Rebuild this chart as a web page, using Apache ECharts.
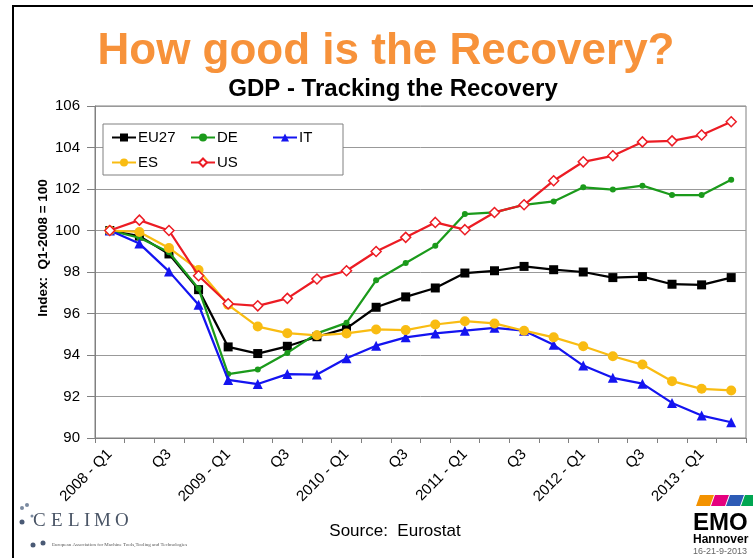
<!DOCTYPE html>
<html>
<head>
<meta charset="utf-8">
<script src="https://cdn.jsdelivr.net/npm/echarts@6/dist/echarts.min.js"></script>
<style>
html,body{margin:0;padding:0;background:#fff;}
#chart{width:753px;height:558px;}
</style>
</head>
<body>
<div id="chart"></div>
<script>
var categories = ["2008 - Q1","Q2","Q3","Q4","2009 - Q1","Q2","Q3","Q4","2010 - Q1","Q2","Q3","Q4","2011 - Q1","Q2","Q3","Q4","2012 - Q1","Q2","Q3","Q4","2013 - Q1","Q2"];
var eu27 = [100, 99.73, 98.87, 97.15, 94.39, 94.07, 94.42, 94.88, 95.28, 96.3, 96.8, 97.23, 97.95, 98.06, 98.27, 98.11, 98.0, 97.73, 97.78, 97.41, 97.38, 97.73];
var de   = [100, 99.65, 98.95, 97.2, 93.08, 93.3, 94.1, 95.04, 95.55, 97.6, 98.43, 99.26, 100.79, 100.87, 101.24, 101.4, 102.08, 101.97, 102.16, 101.71, 101.71, 102.45];
var it   = [100, 99.37, 98.03, 96.42, 92.8, 92.6, 93.08, 93.06, 93.84, 94.45, 94.85, 95.04, 95.17, 95.31, 95.17, 94.49, 93.49, 92.9, 92.62, 91.69, 91.08, 90.76];
var es   = [100, 99.93, 99.16, 98.1, 96.42, 95.37, 95.05, 94.95, 95.04, 95.23, 95.2, 95.47, 95.63, 95.52, 95.17, 94.85, 94.42, 93.94, 93.54, 92.74, 92.37, 92.29];
var us   = [100, 100.5, 100.0, 97.82, 96.47, 96.37, 96.73, 97.66, 98.06, 98.99, 99.67, 100.39, 100.04, 100.87, 101.24, 102.4, 103.31, 103.6, 104.27, 104.32, 104.6, 105.24];
var yTicks = {min: 90, max: 106, interval: 2};

var FONT = '"Liberation Sans", Arial, sans-serif';
var chart = echarts.init(document.getElementById('chart'), null, {renderer: 'canvas'});

function legendAt(name, left, top) {
  return {
    data: [name], left: left, top: top, padding: 0, itemGap: 0,
    itemWidth: 24, itemHeight: 10, z: 20,
    textStyle: {fontFamily: FONT, fontSize: 15, color: '#000', padding: [0, 0, 0, -3]}
  };
}

var celimo = [];
var letters = 'CELIMO';
var letterX = [33, 51, 68, 84, 94, 115];
for (var i = 0; i < letters.length; i++) {
  celimo.push({type: 'text', x: letterX[i], y: 521,
    style: {text: letters[i], font: '19px "Liberation Serif", serif', fill: '#4a5566', align: 'left', verticalAlign: 'middle'}});
}

var option = {
  backgroundColor: '#fff',
  animation: false,
  grid: {left: 95, top: 106, width: 651, height: 332, show: true, borderColor: '#808080', borderWidth: 1, backgroundColor: 'transparent'},
  legend: [
    legendAt('EU27', 111, 130), legendAt('DE', 190, 130), legendAt('IT', 272, 130),
    legendAt('ES', 111, 155), legendAt('US', 190, 155)
  ],
  xAxis: {
    type: 'category', data: categories, boundaryGap: true,
    axisLine: {lineStyle: {color: '#808080', width: 1}},
    axisTick: {show: true, interval: 0, length: 5, lineStyle: {color: '#808080'}},
    axisLabel: {interval: 1, rotate: 45, fontSize: 15, fontFamily: FONT, color: '#000', margin: 14}
  },
  yAxis: {
    type: 'value', min: yTicks.min, max: yTicks.max, interval: yTicks.interval,
    axisLine: {show: true, lineStyle: {color: '#808080', width: 1}},
    axisTick: {show: true, length: 8, lineStyle: {color: '#808080'}},
    axisLabel: {fontSize: 15, fontFamily: FONT, color: '#000', margin: 15},
    splitLine: {lineStyle: {color: '#999999', width: 1}}
  },
  series: [
    {name: 'EU27', type: 'line', data: eu27, symbol: 'rect', symbolSize: 9, z: 3,
      lineStyle: {color: '#000', width: 2.25}, itemStyle: {color: '#000'}},
    {name: 'DE', type: 'line', data: de, symbol: 'circle', symbolSize: 6, z: 4,
      lineStyle: {color: '#1b9a1b', width: 2.25}, itemStyle: {color: '#1b9a1b'}},
    {name: 'IT', type: 'line', data: it, symbol: 'triangle', symbolSize: 10, z: 5,
      lineStyle: {color: '#1414f0', width: 2.25}, itemStyle: {color: '#1414f0'}},
    {name: 'ES', type: 'line', data: es, symbol: 'circle', symbolSize: 10, z: 6,
      lineStyle: {color: '#f9bc12', width: 2.25}, itemStyle: {color: '#f9bc12'}},
    {name: 'US', type: 'line', data: us, symbol: 'diamond', symbolSize: 10, z: 7, showAllSymbol: true,
      lineStyle: {color: '#ec1c24', width: 2.25}, itemStyle: {color: '#fff', borderColor: '#ec1c24', borderWidth: 1.5}}
  ],
  graphic: {elements: [
    {type: 'rect', shape: {x: 13, y: 6, width: 760, height: 600}, style: {fill: 'none', stroke: '#000', lineWidth: 2}, z: 1},
    {type: 'rect', shape: {x: 103, y: 124, width: 240, height: 51}, style: {fill: '#fff', stroke: '#808080', lineWidth: 1}, z: 10},
    {type: 'text', x: 386, y: 52, z: 10,
      style: {text: 'How good is the Recovery?', font: 'bold 44px ' + FONT, fill: '#f7923a', align: 'center', verticalAlign: 'middle'}},
    {type: 'text', x: 393, y: 89, z: 10,
      style: {text: 'GDP - Tracking the Recovery', font: 'bold 24px ' + FONT, fill: '#000', align: 'center', verticalAlign: 'middle'}},
    {type: 'text', x: 43, y: 248, rotation: Math.PI / 2, z: 10,
      style: {text: 'Index:  Q1-2008 = 100', font: 'bold 13.5px ' + FONT, fill: '#000', align: 'center', verticalAlign: 'middle'}},
    {type: 'text', x: 395, y: 531, z: 10,
      style: {text: 'Source:  Eurostat', font: '17px ' + FONT, fill: '#000', align: 'center', verticalAlign: 'middle'}},
    {type: 'circle', shape: {cx: 22, cy: 508, r: 2}, style: {fill: '#7a8aa0'}},
    {type: 'circle', shape: {cx: 27, cy: 505, r: 2}, style: {fill: '#7a8aa0'}},
    {type: 'circle', shape: {cx: 22, cy: 522, r: 2.5}, style: {fill: '#4a5a75'}},
    {type: 'circle', shape: {cx: 32, cy: 516, r: 1.5}, style: {fill: '#7a8aa0'}},
    {type: 'circle', shape: {cx: 33, cy: 545, r: 2.5}, style: {fill: '#4a5a75'}},
    {type: 'circle', shape: {cx: 43, cy: 543, r: 2.5}, style: {fill: '#4a5a75'}},
    {type: 'text', x: 52, y: 545, z: 10,
      style: {text: 'European Association for Machine Tools,Tooling and Technologies', font: '5px "Liberation Serif", serif', fill: '#555', align: 'left', verticalAlign: 'middle'}},
    {type: 'polygon', shape: {points: [[696,506],[700,495],[714,495],[710,506]]}, style: {fill: '#f39200'}},
    {type: 'polygon', shape: {points: [[711,506],[715,495],[729,495],[725,506]]}, style: {fill: '#e5007e'}},
    {type: 'polygon', shape: {points: [[726,506],[730,495],[744,495],[740,506]]}, style: {fill: '#2d5bb5'}},
    {type: 'polygon', shape: {points: [[741,506],[745,495],[759,495],[755,506]]}, style: {fill: '#00a651'}},
    {type: 'text', x: 693, y: 523, z: 10,
      style: {text: 'EMO', font: 'bold 24px ' + FONT, fill: '#000', align: 'left', verticalAlign: 'middle'}},
    {type: 'text', x: 693, y: 540, z: 10,
      style: {text: 'Hannover', font: 'bold 12px ' + FONT, fill: '#000', align: 'left', verticalAlign: 'middle'}},
    {type: 'text', x: 693, y: 552, z: 10,
      style: {text: '16-21-9-2013', font: '9px ' + FONT, fill: '#666', align: 'left', verticalAlign: 'middle'}}
  ].concat(celimo)}
};
chart.setOption(option);
</script>
</body>
</html>
